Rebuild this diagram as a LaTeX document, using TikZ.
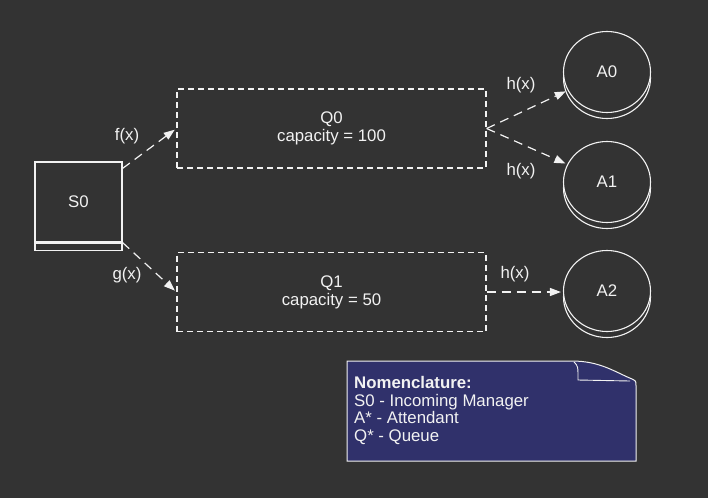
\documentclass[tikz,border=0pt]{standalone}
\usepackage{fontspec}
\setmainfont{Liberation Sans}
\usetikzlibrary{arrows.meta, positioning, shapes.geometric}
\definecolor{bgdark}{HTML}{333333}
\definecolor{inkwhite}{HTML}{F2F2F2}
\definecolor{notenavy}{HTML}{30316B}

\begin{document}
\begin{tikzpicture}[
    x=1pt, y=-1pt,
    every node/.style={font=\fontsize{16.8}{18}\selectfont, text=inkwhite},
    src/.style={rectangle, draw=inkwhite, line width=1.2pt, fill=bgdark, minimum width=87pt, minimum height=80pt, inner sep=0pt},
    queue/.style={rectangle, draw=inkwhite, line width=1.3pt, dash pattern=on 6pt off 4pt, minimum width=309pt, minimum height=79pt, align=center, inner sep=0pt},
    agent/.style={ellipse, draw=inkwhite, line width=1.1pt, fill=bgdark, minimum width=87pt, minimum height=81pt, inner sep=0pt},
    lbl/.style={inner sep=1pt},
    arrow/.style={-{Triangle[length=11pt,width=8pt]}, line width=1.2pt, draw=inkwhite, dash pattern=on 9pt off 6pt, shorten >=2pt}
]

% Canvas
\fill[bgdark] (0,0) rectangle (708,498);
\useasboundingbox (0,0) rectangle (708,498);

% Source
\node[src] (s0) at (78.5,202) {S0};
\node[src, minimum height=7pt, anchor=north] (s0base) at (s0.south) {};

% Queues
\node[queue] (q0) at (331.5,128.5) {Q0\\ capacity = 100};
\node[queue] (q1) at (331.5,292) {Q1\\ capacity = 50};

% Attendants
\node[agent] (a0back) at (607,78) {};
\node[agent] (a0) at (607,72) {A0};
\node[agent] (a1back) at (607,188) {};
\node[agent] (a1) at (607,182) {A1};
\node[agent] (a2back) at (607,297) {};
\node[agent] (a2) at (607,291) {A2};

% Routing arrows
\draw[arrow] ([yshift=-7pt]s0.north east) -- (q0.west);
\draw[arrow] (s0.south east) -- (q1.west);
\draw[arrow] (q0.east) -- (a0);
\draw[arrow] (q0.east) -- (a1);
\draw[arrow] (q1.east) -- (q1.east -| a2.west);

% Arrow labels
\node[lbl] (fx) at (127,136) {f(x)};
\node[lbl] (gx) at (127,275) {g(x)};
\node[lbl] (hx0) at (521,85) {h(x)};
\node[lbl] (hx1) at (521,171) {h(x)};
\node[lbl] (hx2) at (515,274) {h(x)};

% Legend note
\filldraw[fill=notenavy, draw=inkwhite, line width=1pt]
    (347,361) -- (572,361) .. controls (600,361) and (615,372) .. (632,379)
    .. controls (636,381) .. (636,386) -- (636,461) -- (347,461) -- cycle;
\draw[inkwhite, line width=0.9pt] (574,362) .. controls (578,366) .. (578,380) -- (630,381);
\node[anchor=west, align=left, inner sep=0pt, font=\fontsize{16.8}{17.5}\selectfont] (nomen) at (354,410.5)
    {\textbf{Nomenclature:}\\ S0 - Incoming Manager\\ A* - Attendant\\ Q* - Queue};

\end{tikzpicture}
\end{document}
